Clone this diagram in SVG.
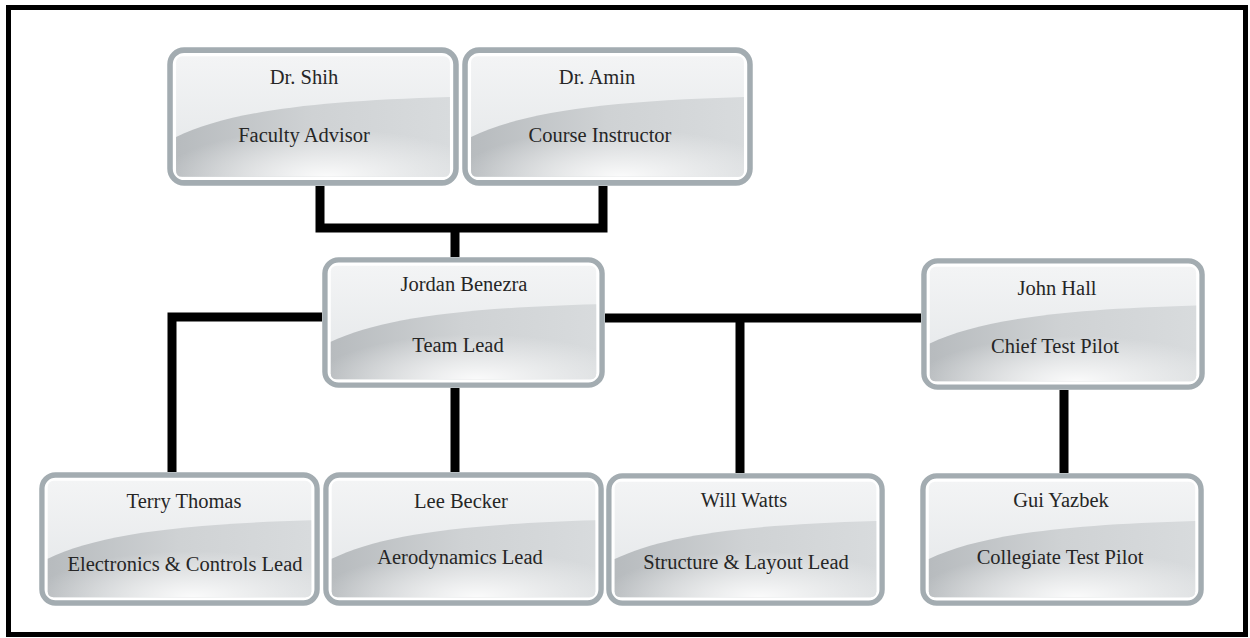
<svg xmlns="http://www.w3.org/2000/svg" width="1250" height="638" viewBox="0 0 1250 638">
  <defs>
    <style>
      text.t { font-family: 'Liberation Serif', 'DejaVu Serif', serif; font-size: 20.5px; fill: #262626; text-anchor: middle; }
      .c { stroke: #000; stroke-width: 9; fill: none; stroke-linejoin: miter; stroke-linecap: butt; }
    </style>
    <linearGradient id="gTop" x1="0" y1="0" x2="0" y2="1">
      <stop offset="0" stop-color="#f3f4f5"/>
      <stop offset="1" stop-color="#e3e6e8"/>
    </linearGradient>
    <linearGradient id="gLow" x1="0" y1="0" x2="1" y2="0">
      <stop offset="0" stop-color="#b7bbbe"/>
      <stop offset="0.5" stop-color="#cfd2d4"/>
      <stop offset="1" stop-color="#d8dbdd"/>
    </linearGradient>
    <radialGradient id="gGlow" cx="0.55" cy="1" r="0.6" fx="0.55" fy="1">
      <stop offset="0" stop-color="#ffffff" stop-opacity="0.9"/>
      <stop offset="1" stop-color="#ffffff" stop-opacity="0"/>
    </radialGradient>
    <symbol id="box" viewBox="0 0 290 136" preserveAspectRatio="none">
      <rect x="3" y="3" width="284" height="130" rx="14" fill="#ffffff" stroke="#a3acb1" stroke-width="5.5"/>
      <rect x="9" y="9" width="272" height="118" rx="6" fill="url(#gTop)"/>
      <path d="M9,88 C60,64 140,53 281,49 L281,121 Q281,127 275,127 L15,127 Q9,127 9,121 Z" fill="url(#gLow)"/>
      <path d="M9,88 C60,64 140,53 281,49 L281,121 Q281,127 275,127 L15,127 Q9,127 9,121 Z" fill="url(#gGlow)"/>
    </symbol>
  </defs>

  <rect x="8.5" y="7.5" width="1237" height="627" fill="#ffffff" stroke="#000" stroke-width="5"/>

  <g id="connectors">
    <path class="c" d="M320,186 V228 H603 V186"/>
    <path class="c" d="M455,228 V257"/>
    <path class="c" d="M322,317 H172 V472"/>
    <path class="c" d="M455,388 V472"/>
    <path class="c" d="M605,318 H921"/>
    <path class="c" d="M740,318 V473"/>
    <path class="c" d="M1064,390 V473"/>
  </g>

  <g font-family="Liberation Serif, DejaVu Serif, serif">
  <g id="node-shih">
    <use href="#box" x="167" y="47" width="292" height="139"/>
    <text class="t" x="304" y="84">Dr. Shih</text>
    <text class="t" x="304" y="142">Faculty Advisor</text>
  </g>
  <g id="node-amin">
    <use href="#box" x="462" y="47" width="291" height="139"/>
    <text class="t" x="597" y="84">Dr. Amin</text>
    <text class="t" x="600" y="142">Course Instructor</text>
  </g>
  <g id="node-jordan">
    <use href="#box" x="322" y="257" width="283" height="131"/>
    <text class="t" x="464" y="291">Jordan Benezra</text>
    <text class="t" x="458" y="352">Team Lead</text>
  </g>
  <g id="node-john">
    <use href="#box" x="921" y="258" width="284" height="132"/>
    <text class="t" x="1057" y="295">John Hall</text>
    <text class="t" x="1055" y="353">Chief Test Pilot</text>
  </g>
  <g id="node-terry">
    <use href="#box" x="39" y="472" width="281" height="134"/>
    <text class="t" x="184" y="508">Terry Thomas</text>
    <text class="t" x="185" y="571">Electronics &amp; Controls Lead</text>
  </g>
  <g id="node-lee">
    <use href="#box" x="323" y="472" width="281" height="134"/>
    <text class="t" x="461" y="508">Lee Becker</text>
    <text class="t" x="460" y="564">Aerodynamics Lead</text>
  </g>
  <g id="node-will">
    <use href="#box" x="606" y="473" width="279" height="133"/>
    <text class="t" x="744" y="507">Will Watts</text>
    <text class="t" x="746" y="569">Structure &amp; Layout Lead</text>
  </g>
  <g id="node-gui">
    <use href="#box" x="920" y="473" width="284" height="133"/>
    <text class="t" x="1061" y="507">Gui Yazbek</text>
    <text class="t" x="1060" y="564">Collegiate Test Pilot</text>
  </g>
  </g>
</svg>
